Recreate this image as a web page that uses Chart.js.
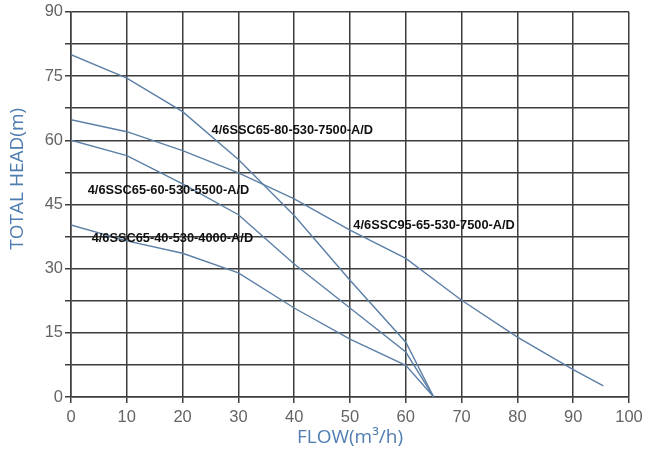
<!DOCTYPE html>
<html>
<head>
<meta charset="utf-8">
<script src="https://cdn.jsdelivr.net/npm/chart.js@4"></script>
<style>
  html, body { margin: 0; padding: 0; background: #fff; }
  #wrap { width: 655px; height: 456px; }
</style>
</head>
<body>
<div id="wrap"><canvas id="chart" width="655" height="456"></canvas></div>
<script>
// pump curves, flow in m3/h and head in m
var flow80 = [0, 10, 20, 30, 40, 50, 60, 65];
var head80 = [80, 74.5, 66.7, 55.5, 42.4, 27.3, 12.8, 0];

var flow95 = [0, 10, 20, 30, 40, 50, 60, 70, 80, 90, 95.4];
var head95 = [64.8, 62, 57.6, 52.4, 46.3, 39, 32.4, 22.6, 14, 6.4, 2.6];

var flow60 = [0, 10, 20, 30, 40, 50, 60, 65];
var head60 = [60, 56.4, 49.8, 42.6, 31.1, 20.8, 10.5, 0];

var flow40 = [0, 10, 20, 30, 40, 50, 60, 65];
var head40 = [40.2, 36.5, 33.6, 29, 20.8, 13.5, 7.4, 0];

var curveNames = ['4/6SSC65-80-530-7500-A/D', '4/6SSC95-65-530-7500-A/D', '4/6SSC65-60-530-5500-A/D', '4/6SSC65-40-530-4000-A/D'];
// where each name is written (data units, left edge / middle)
var nameX = [25.2, 50.6, 3, 3.7];
var nameY = [62.4, 40.2, 48.3, 37.1];

var xTicks = [0, 10, 20, 30, 40, 50, 60, 70, 80, 90, 100];
var yTicks = [0, 15, 30, 45, 60, 75, 90];

var titleColor = '#4f7db0';
var titleFont = '"Open Sans", "Liberation Sans", sans-serif';

function toPoints(xs, ys) {
    return xs.map(function (x, i) { return { x: x, y: ys[i] }; });
}

function curve(xs, ys) {
    return {
        data: toPoints(xs, ys),
        showLine: true,
        borderColor: '#5b7fa6',
        borderWidth: 1.4,
        pointRadius: 0,
        tension: 0,
        fill: false
    };
}

// writes the model names next to the curves and the head title
var curveLabels = {
    id: 'curveLabels',
    afterDatasetsDraw: function (chart) {
        var ctx = chart.ctx;
        var xs = chart.scales.x, ys = chart.scales.y;
        ctx.save();
        ctx.font = 'bold 12.8px "Liberation Sans", Arial, sans-serif';
        ctx.fillStyle = '#111';
        ctx.textAlign = 'left';
        ctx.textBaseline = 'middle';
        curveNames.forEach(function (name, i) {
            ctx.fillText(name, xs.getPixelForValue(nameX[i]), ys.getPixelForValue(nameY[i]));
        });

        // y title sits a bit above the middle in the original
        ctx.font = '19px ' + titleFont;
        ctx.fillStyle = titleColor;
        ctx.textAlign = 'center';
        ctx.translate(18, ys.getPixelForValue(51));
        ctx.rotate(-Math.PI / 2);
        ctx.fillText('TOTAL HEAD(m)', 0, 0);
        ctx.restore();
    }
};

var gridColor = '#3d3d3d';

new Chart(document.getElementById('chart'), {
    type: 'scatter',
    data: {
        datasets: [
            curve(flow80, head80),
            curve(flow95, head95),
            curve(flow60, head60),
            curve(flow40, head40)
        ]
    },
    options: {
        responsive: false,
        animation: false,
        layout: { padding: { top: 8, right: 26, left: 0, bottom: 0 } },
        plugins: {
            legend: { display: false },
            tooltip: { enabled: false }
        },
        scales: {
            x: {
                type: 'linear',
                min: 0,
                max: 100,
                afterFit: function (s) { s.height = 59; },
                afterBuildTicks: function (s) { s.ticks = xTicks.map(function (v) { return { value: v }; }); },
                ticks: {
                    color: '#646464',
                    font: { family: '"Liberation Sans", Arial, sans-serif', size: 16.5 },
                    padding: 5,
                    maxRotation: 0
                },
                grid: { color: gridColor, lineWidth: 1.5, tickLength: 6 },
                border: { color: gridColor, width: 1.5 },
                title: {
                    display: true,
                    text: 'FLOW(m³/h)',
                    color: titleColor,
                    font: { family: titleFont, size: 19 },
                    padding: { top: 0, bottom: 7 }
                }
            },
            y: {
                type: 'linear',
                min: 0,
                max: 90,
                afterFit: function (s) { s.width = 71; },
                ticks: {
                    stepSize: 7.5,
                    color: '#646464',
                    font: { family: '"Liberation Sans", Arial, sans-serif', size: 16.5 },
                    padding: 2,
                    callback: function (v) { return yTicks.indexOf(v) >= 0 ? String(v) : ''; }
                },
                grid: { color: gridColor, lineWidth: 1.5, tickLength: 6 },
                border: { color: gridColor, width: 1.5 },
                title: { display: false }
            }
        }
    },
    plugins: [curveLabels]
});
</script>
</body>
</html>
